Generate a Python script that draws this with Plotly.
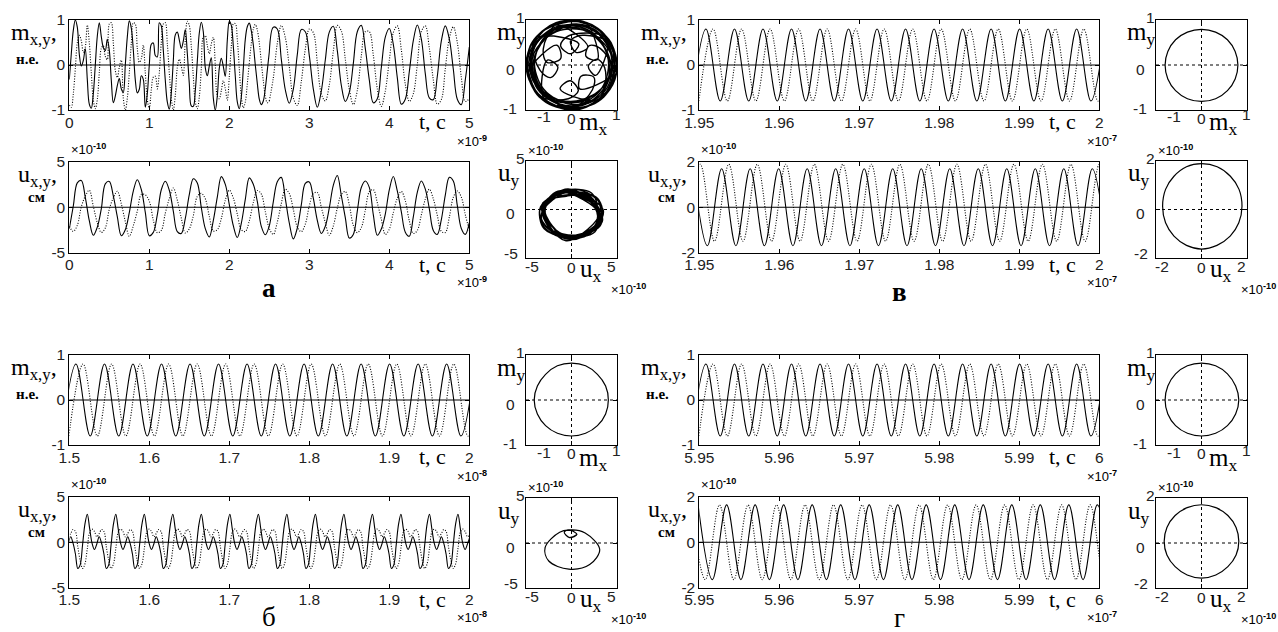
import plotly.graph_objects as go

W, H = 1278, 632
SERIF = "Liberation Serif"
SANS = "Liberation Sans"

# ---------------- panel а : transient regime (t in 1e-9 s, u in 1e-10 cm) -------------
# magnetisation: dense samples for 0 … 2.5, coarser samples for 2.5 … 5
A_E_T0, A_E_DT = 0.0, 0.025
a_mx_early = [-0.32, 0.25, 0.77, 1.00, 0.84, 0.24, -0.02, 0.10, 0.36, -0.32,
              -0.87, -0.96, -0.64, 0.00, 0.64, 0.94, 0.63, 0.39, 0.32, 0.57,
              0.33, -0.34, -0.84, -0.69, -0.46, -0.30, -0.53, -0.61, 0.00, 0.62,
              0.98, 0.82, 0.34, -0.33, -0.62, -0.54, -0.24, -0.32, -0.94, -0.64,
              0.00, 0.46, 0.49, 0.21, 0.18, 0.94, 0.87, 0.33, -0.34, -0.82,
              -0.98, -0.62, 0.09, 0.67, 0.73, 0.56, 0.37, 0.53, 0.79, 0.26,
              -0.41, -0.91, -0.92, -0.57, 0.08, 0.71, 0.95, 0.74, -0.06, -0.24,
              -0.02, 0.16, -0.73, -1.00, -0.69, -0.07, 0.15, -0.03, -0.25, 0.55,
              0.97, 0.88, 0.42, -0.25, -0.82, -0.97, -0.71, -0.08, 0.57, 0.85,
              0.93, 0.76, 0.45, 0.00, -0.41, -0.76, -0.88, -0.80, -0.52, -0.12,
              0.29]
a_my_early = [-0.89, -0.94, -0.64, -0.09, 0.49, 0.66, 0.54, 0.28, 0.40, 0.89,
              0.50, -0.17, -0.77, -0.97, -0.77, -0.17, 0.37, 0.43, 0.19, 0.12,
              0.91, 0.94, 0.49, -0.12, -0.28, -0.05, 0.11, -0.73, -1.00, -0.74,
              -0.17, 0.48, 0.94, 0.91, 0.36, 0.06, 0.14, 0.44, -0.17, -0.77,
              -0.97, -0.55, -0.27, -0.25, -0.53, -0.17, 0.50, 0.91, 0.94, 0.48,
              -0.17, -0.74, -1.00, -0.67, -0.06, 0.13, -0.03, -0.23, 0.56, 0.97,
              0.88, 0.42, -0.25, -0.82, -0.97, -0.71, -0.08, 0.62, 0.65, 0.43,
              0.25, 0.47, 0.61, 0.00, -0.69, -0.75, -0.57, -0.35, -0.53, -0.78,
              -0.26, 0.41, 0.91, 0.92, 0.57, -0.08, -0.71, -0.95, -0.82, -0.42,
              0.05, 0.48, 0.80, 0.90, 0.78, 0.49, 0.06, -0.35, -0.69, -0.84,
              -0.80]
A_L_T0, A_L_DT = 2.5, 0.05
a_mx_late = [0.29, 0.84, 0.80, 0.13, -0.55, -0.85, -0.54, 0.23, 0.79, 0.74,
             0.21, -0.53, -0.94, -0.58, 0.11, 0.73, 0.86, 0.32, -0.45, -0.81,
             -0.61, 0.03, 0.74, 0.88, 0.37, -0.33, -0.84, -0.75, -0.06, 0.62,
             0.81, 0.46, -0.28, -0.87, -0.76, -0.15, 0.54, 0.89, 0.58, -0.19,
             -0.73, -0.77, -0.25, 0.53, 0.87, 0.58, -0.09, -0.76, -0.88, -0.33,
             0.40]
a_my_late = [-0.80, -0.29, 0.48, 0.88, 0.61, -0.04, -0.73, -0.90, -0.37, 0.35,
             0.80, 0.72, 0.06, -0.64, -0.80, -0.44, 0.30, 0.88, 0.76, 0.13,
             -0.54, -0.88, -0.57, 0.20, 0.74, 0.74, 0.22, -0.53, -0.92, -0.58,
             0.10, 0.72, 0.87, 0.34, -0.43, -0.81, -0.64, 0.01, 0.74, 0.87,
             0.38, -0.33, -0.87, -0.77, -0.08, 0.59, 0.85, 0.50, -0.27, -0.81,
             -0.75]
# displacement on a 0.05 grid over 0 … 5
A_U_T0, A_U_DT = 0.0, 0.05
a_ux = [-2.37, 0.14, 2.69, 2.95, 1.10, -1.49, -3.10, -2.20, -0.18, 2.58,
        2.85, 1.26, -1.04, -3.15, -2.49, -0.60, 1.79, 3.04, 1.96, -0.57,
        -3.15, -2.78, -0.85, 1.93, 2.87, 1.88, -0.42, -2.69, -2.89, -1.24,
        1.40, 3.15, 2.69, -0.03, -2.37, -3.29, -1.48, 1.12, 3.38, 2.52,
        0.30, -2.04, -3.34, -1.78, 0.88, 3.25, 2.54, 0.64, -2.12, -3.04,
        -2.05, 0.60, 2.81, 3.30, 0.96, -1.74, -3.50, -2.30, 0.26, 2.63,
        2.80, 1.00, -1.45, -2.90, -2.10, -0.08, 2.42, 3.50, 1.30, -1.14,
        -3.40, -3.00, -0.42, 2.19, 2.90, 2.20, -0.82, -3.10, -2.40, -0.75,
        1.93, 3.40, 1.80, -0.48, -2.75, -3.20, -1.07, 1.64, 2.90, 2.00,
        -0.14, -2.56, -3.00, -1.39, 1.35, 3.30, 2.90, 0.20, -2.35, -3.00,
        -1.69]
a_uy = [-2.11, -2.66, -2.00, 0.05, 1.23, 1.89, 0.10, -1.70, -2.78, -2.29,
        -0.21, 1.03, 1.77, 0.38, -1.58, -3.22, -2.04, -0.43, 1.40, 1.37,
        0.68, -1.43, -2.81, -2.56, -0.66, 0.97, 2.12, 0.80, -1.20, -2.84,
        -2.39, -0.93, 1.20, 1.54, 0.93, -1.01, -2.63, -2.49, -1.25, 0.78,
        1.89, 1.02, -0.75, -2.50, -2.68, -1.51, 0.51, 1.85, 1.46, -0.49,
        -2.34, -3.00, -1.65, 0.40, 2.00, 1.51, -0.23, -2.17, -2.70, -1.87,
        0.15, 1.50, 1.64, 0.02, -1.70, -3.10, -2.07, -0.10, 1.40, 1.74,
        0.27, -2.00, -2.80, -2.25, -0.34, 1.70, 1.95, 0.50, -1.30, -3.00,
        -2.42, -0.60, 1.00, 1.75, 0.73, -1.50, -2.90, -2.56, -0.86, 0.90,
        2.00, 0.94, -0.90, -2.66, -2.80, -1.10, 1.10, 1.80, 1.13, -0.82,
        -2.54]

# ---------------- panel б : t in 1e-8 s ----------------
B_HALF = 0.017821                      # half period between successive extrema
B_MX_T0, B_MY_T0 = 1.49051, 1.49942
b_mx = [-0.80, 0.80, -0.80, 0.80, -0.80, 0.80, -0.80, 0.80, -0.80, 0.80,
        -0.80, 0.80, -0.80, 0.80, -0.80, 0.80, -0.80, 0.80, -0.80, 0.80,
        -0.80, 0.80, -0.80, 0.80, -0.80, 0.80, -0.80, 0.80, -0.80, 0.80]
b_my = [-0.80, 0.80, -0.80, 0.80, -0.80, 0.80, -0.80, 0.80, -0.80, 0.80,
        -0.80, 0.80, -0.80, 0.80, -0.80, 0.80, -0.80, 0.80, -0.80, 0.80,
        -0.80, 0.80, -0.80, 0.80, -0.80, 0.80, -0.80, 0.80, -0.80, 0.80]
# u_x, u_y sampled twelve times per period
B_U_T0, B_U_DT = 1.49874, 0.0029701
b_ux = [-0.2, 0.6, -0.1, -1.3, -2.9, -2.5, -0.3, 2.0,
        3.1, 1.5, -0.1, -0.8, -0.2, 0.6, -0.1, -1.3, -2.9, -2.5, -0.3, 2.0,
        3.1, 1.5, -0.1, -0.8, -0.2, 0.6, -0.1, -1.3, -2.9, -2.5, -0.3, 2.0,
        3.1, 1.5, -0.1, -0.8, -0.2, 0.6, -0.1, -1.3, -2.9, -2.5, -0.3, 2.0,
        3.1, 1.5, -0.1, -0.8, -0.2, 0.6, -0.1, -1.3, -2.9, -2.5, -0.3, 2.0,
        3.1, 1.5, -0.1, -0.8, -0.2, 0.6, -0.1, -1.3, -2.9, -2.5, -0.3, 2.0,
        3.1, 1.5, -0.1, -0.8, -0.2, 0.6, -0.1, -1.3, -2.9, -2.5, -0.3, 2.0,
        3.1, 1.5, -0.1, -0.8, -0.2, 0.6, -0.1, -1.3, -2.9, -2.5, -0.3, 2.0,
        3.1, 1.5, -0.1, -0.8, -0.2, 0.6, -0.1, -1.3, -2.9, -2.5, -0.3, 2.0,
        3.1, 1.5, -0.1, -0.8, -0.2, 0.6, -0.1, -1.3, -2.9, -2.5, -0.3, 2.0,
        3.1, 1.5, -0.1, -0.8, -0.2, 0.6, -0.1, -1.3, -2.9, -2.5, -0.3, 2.0,
        3.1, 1.5, -0.1, -0.8, -0.2, 0.6, -0.1, -1.3, -2.9, -2.5, -0.3, 2.0,
        3.1, 1.5, -0.1, -0.8, -0.2, 0.6, -0.1, -1.3, -2.9, -2.5, -0.3, 2.0,
        3.1, 1.5, -0.1, -0.8, -0.2, 0.6, -0.1, -1.3, -2.9, -2.5, -0.3, 2.0,
        3.1, 1.5, -0.1, -0.8, -0.2, 0.6]
b_uy = [0.6, 0.95, 1.4, 1.2, -0.5, -2.0, -2.9, -2.4,
        -0.7, 1.1, 1.45, 1.2, 0.6, 0.95, 1.4, 1.2, -0.5, -2.0, -2.9, -2.4,
        -0.7, 1.1, 1.45, 1.2, 0.6, 0.95, 1.4, 1.2, -0.5, -2.0, -2.9, -2.4,
        -0.7, 1.1, 1.45, 1.2, 0.6, 0.95, 1.4, 1.2, -0.5, -2.0, -2.9, -2.4,
        -0.7, 1.1, 1.45, 1.2, 0.6, 0.95, 1.4, 1.2, -0.5, -2.0, -2.9, -2.4,
        -0.7, 1.1, 1.45, 1.2, 0.6, 0.95, 1.4, 1.2, -0.5, -2.0, -2.9, -2.4,
        -0.7, 1.1, 1.45, 1.2, 0.6, 0.95, 1.4, 1.2, -0.5, -2.0, -2.9, -2.4,
        -0.7, 1.1, 1.45, 1.2, 0.6, 0.95, 1.4, 1.2, -0.5, -2.0, -2.9, -2.4,
        -0.7, 1.1, 1.45, 1.2, 0.6, 0.95, 1.4, 1.2, -0.5, -2.0, -2.9, -2.4,
        -0.7, 1.1, 1.45, 1.2, 0.6, 0.95, 1.4, 1.2, -0.5, -2.0, -2.9, -2.4,
        -0.7, 1.1, 1.45, 1.2, 0.6, 0.95, 1.4, 1.2, -0.5, -2.0, -2.9, -2.4,
        -0.7, 1.1, 1.45, 1.2, 0.6, 0.95, 1.4, 1.2, -0.5, -2.0, -2.9, -2.4,
        -0.7, 1.1, 1.45, 1.2, 0.6, 0.95, 1.4, 1.2, -0.5, -2.0, -2.9, -2.4,
        -0.7, 1.1, 1.45, 1.2, 0.6, 0.95, 1.4, 1.2, -0.5, -2.0, -2.9, -2.4,
        -0.7, 1.1, 1.45, 1.2, 0.6, 0.95]
b_ring_mx = [0.81, 0.75, 0.57, 0.31, 0.0, -0.31, -0.57, -0.75, -0.82,
             -0.75, -0.57, -0.31, 0.0, 0.31, 0.57, 0.75, 0.81]
b_ring_my = [0.0, 0.31, 0.57, 0.76, 0.82, 0.76, 0.57, 0.31, 0.0,
             -0.31, -0.57, -0.74, -0.80, -0.74, -0.57, -0.31, 0.0]

# ---------------- panel в : t in 1e-7 s ----------------
V_HALF = 0.0017821
V_MX_T0, V_MY_T0 = 1.949051, 1.949942
v_mx = [-0.80, 0.80, -0.80, 0.80, -0.80, 0.80, -0.80, 0.80, -0.80, 0.80,
        -0.80, 0.80, -0.80, 0.80, -0.80, 0.80, -0.80, 0.80, -0.80, 0.80,
        -0.80, 0.80, -0.80, 0.80, -0.80, 0.80, -0.80, 0.80, -0.80, 0.80]
v_my = [-0.80, 0.80, -0.80, 0.80, -0.80, 0.80, -0.80, 0.80, -0.80, 0.80,
        -0.80, 0.80, -0.80, 0.80, -0.80, 0.80, -0.80, 0.80, -0.80, 0.80,
        -0.80, 0.80, -0.80, 0.80, -0.80, 0.80, -0.80, 0.80, -0.80, 0.80]
V_UX_T0, V_UY_T0 = 1.949228, 1.948337
v_ux = [1.70, -1.70, 1.70, -1.70, 1.70, -1.70, 1.70, -1.70, 1.70, -1.70,
        1.70, -1.70, 1.70, -1.70, 1.70, -1.70, 1.70, -1.70, 1.70, -1.70,
        1.70, -1.70, 1.70, -1.70, 1.70, -1.70, 1.70, -1.70, 1.70, -1.70]
v_uy = [-1.50, 1.90, -1.50, 1.90, -1.50, 1.90, -1.50, 1.90, -1.50, 1.90,
        -1.50, 1.90, -1.50, 1.90, -1.50, 1.90, -1.50, 1.90, -1.50, 1.90,
        -1.50, 1.90, -1.50, 1.90, -1.50, 1.90, -1.50, 1.90, -1.50, 1.90, -1.50]
v_ring_mx = [0.80, 0.74, 0.57, 0.31, 0.0, -0.31, -0.57, -0.74, -0.80,
             -0.74, -0.57, -0.31, 0.0, 0.31, 0.57, 0.74, 0.80]
v_ring_my = [0.0, 0.30, 0.56, 0.73, 0.79, 0.73, 0.56, 0.30, 0.0,
             -0.31, -0.57, -0.75, -0.81, -0.75, -0.57, -0.31, 0.0]
v_ring_ux = [1.78, 1.65, 1.27, 0.69, 0.0, -0.66, -1.21, -1.58, -1.71,
             -1.58, -1.21, -0.66, 0.0, 0.68, 1.26, 1.64, 1.78]
v_ring_uy = [0.13, 0.83, 1.37, 1.76, 1.89, 1.76, 1.37, 0.83, 0.13,
             -0.55, -1.10, -1.48, -1.63, -1.48, -1.10, -0.55, 0.13]

# ---------------- panel г : t in 1e-7 s ----------------
G_HALF = 0.0017821
G_MX_T0, G_MY_T0 = 5.949051, 5.949942
g_mx = [-0.80, 0.80, -0.80, 0.80, -0.80, 0.80, -0.80, 0.80, -0.80, 0.80,
        -0.80, 0.80, -0.80, 0.80, -0.80, 0.80, -0.80, 0.80, -0.80, 0.80,
        -0.80, 0.80, -0.80, 0.80, -0.80, 0.80, -0.80, 0.80, -0.80, 0.80]
g_my = [-0.80, 0.80, -0.80, 0.80, -0.80, 0.80, -0.80, 0.80, -0.80, 0.80,
        -0.80, 0.80, -0.80, 0.80, -0.80, 0.80, -0.80, 0.80, -0.80, 0.80,
        -0.80, 0.80, -0.80, 0.80, -0.80, 0.80, -0.80, 0.80, -0.80, 0.80]
G_UX_T0, G_UY_T0 = 5.949853, 5.948962
g_ux = [1.65, -1.65, 1.65, -1.65, 1.65, -1.65, 1.65, -1.65, 1.65, -1.65,
        1.65, -1.65, 1.65, -1.65, 1.65, -1.65, 1.65, -1.65, 1.65, -1.65,
        1.65, -1.65, 1.65, -1.65, 1.65, -1.65, 1.65, -1.65, 1.65, -1.65]
g_uy = [1.65, -1.65, 1.65, -1.65, 1.65, -1.65, 1.65, -1.65, 1.65, -1.65,
        1.65, -1.65, 1.65, -1.65, 1.65, -1.65, 1.65, -1.65, 1.65, -1.65,
        1.65, -1.65, 1.65, -1.65, 1.65, -1.65, 1.65, -1.65, 1.65, -1.65, 1.65]
g_ring_mx = [0.82, 0.75, 0.57, 0.31, 0.0, -0.31, -0.57, -0.74, -0.80,
             -0.74, -0.57, -0.31, 0.0, 0.31, 0.57, 0.75, 0.82]
g_ring_my = [0.0, 0.31, 0.58, 0.76, 0.82, 0.76, 0.58, 0.31, 0.0,
             -0.31, -0.57, -0.74, -0.80, -0.74, -0.57, -0.31, 0.0]
g_ring_ux = [1.64, 1.52, 1.16, 0.63, 0.0, -0.63, -1.16, -1.52, -1.64,
             -1.52, -1.16, -0.63, 0.0, 0.63, 1.16, 1.52, 1.64]
g_ring_uy = [0.07, 0.69, 1.22, 1.57, 1.70, 1.57, 1.22, 0.69, 0.07,
             -0.53, -1.05, -1.42, -1.56, -1.42, -1.05, -0.53, 0.07]

# ---------------- figure construction ----------------
fig = go.Figure()
layout_axes, shapes, annotations = {}, [], []
counter = [0]

AXIS_STYLE = dict(showline=True, linecolor="black", linewidth=1, mirror="allticks",
                  ticks="inside", ticklen=4, tickwidth=1, tickcolor="black",
                  showgrid=False, zeroline=False, fixedrange=True,
                  tickfont=dict(family=SANS, size=15.5, color="#222"))


def axes(xl, xr, yt, yb, xrange, yrange, xt, xtt, yt_vals, ytt, labels=True):
    counter[0] += 1
    n = counter[0]
    sx = "" if n == 1 else str(n)
    layout_axes["xaxis" + sx] = dict(AXIS_STYLE, domain=[xl / W, xr / W], range=xrange,
                                     anchor="y" + sx, tickvals=xt, ticktext=xtt,
                                     showticklabels=labels, ticklabelstandoff=-2)
    layout_axes["yaxis" + sx] = dict(AXIS_STYLE, domain=[1 - yb / H, 1 - yt / H], range=yrange,
                                     anchor="x" + sx, tickvals=yt_vals, ticktext=ytt,
                                     showticklabels=labels)
    return "x" + sx, "y" + sx


def text(px, py, s, size, family=SERIF, xanchor="left", color="black"):
    annotations.append(dict(x=px / W, y=1 - py / H, xref="paper", yref="paper", text=s,
                            showarrow=False, xanchor=xanchor, yanchor="middle",
                            font=dict(family=family, size=size, color=color)))


def tick(px, py, s, xanchor="center"):
    text(px, py, s, 15.5, SANS, xanchor, "#222")


def series(xa, ya, x0, dx, vals, dotted=False):
    fig.add_trace(go.Scatter(x0=x0, dx=dx, y=vals, mode="lines", xaxis=xa, yaxis=ya,
                             line=dict(color="black", width=1.1, shape="spline", smoothing=1,
                                       dash="1px,1.6px" if dotted else "solid"),
                             hoverinfo="skip", showlegend=False))


def orbit(xa, ya, xs, ys, width=1.2):
    fig.add_trace(go.Scatter(x=xs, y=ys, mode="lines", xaxis=xa, yaxis=ya,
                             line=dict(color="black", width=width, shape="spline", smoothing=1),
                             hoverinfo="skip", showlegend=False))


def hline(xa, ya, dash="solid"):
    shapes.append(dict(type="line", xref=xa + " domain", yref=ya, x0=0, x1=1, y0=0, y1=0,
                       line=dict(color="black", width=1, dash=dash), layer="above"))


def vline(xa, ya):
    shapes.append(dict(type="line", xref=xa, yref=ya + " domain", x0=0, x1=0, y0=0, y1=1,
                       line=dict(color="black", width=1, dash="3px,3px"), layer="above"))


def panel(ox, oy, uy_top, uy_bot, cfg):
    tl, tr = 69.3 + ox, 469.3 + ox
    pl, pr = 526 + ox, 617 + ox
    mt, mb = 20 + oy, 110 + oy
    ut, ub = 162 + oy, 252.5 + oy
    pc = (pl + pr) / 2
    exp_t = "×10<sup><b>%s</b></sup>" % cfg["texp"]
    exp_u = "×10<sup><b>-10</b></sup>"
    ul = cfg["ulim"]
    ow = cfg.get("orbit_w", 1.2)

    # m(t)
    xa, ya = axes(tl, tr, mt, mb, cfg["trange"], [-1, 1], cfg["tt"], cfg["ttt"],
                  [-1, 0, 1], ["-1", "0", "1"])
    for x0, dx, vals, dot in cfg["m"]:
        series(xa, ya, x0, dx, vals, dot)
    hline(xa, ya)
    text(tl - 60, mt + 14, "m<sub>x,y</sub>,", 24)
    text(tl - 55, mt + 39, "<b>н.е.</b>", 15)
    text(tl + 348, mb + 11, "t, с", 22)
    text(tl + 386, mb + 31, exp_t, 13, SANS)

    # u(t)
    xa, ya = axes(tl, tr, ut, ub, cfg["trange"], [-ul, ul], cfg["tt"], cfg["ttt"],
                  [-ul, 0, ul], ["-%g" % ul, "0", "%g" % ul])
    for x0, dx, vals, dot in cfg["u"]:
        series(xa, ya, x0, dx, vals, dot)
    hline(xa, ya)
    text(tl - 53, ut + 14, "u<sub>x,y</sub>,", 24)
    text(tl - 43, ut + 35, "<b>см</b>", 15)
    text(tl, ut - 13, exp_u, 13, SANS)
    text(tl + 348, ub + 12, "t, с", 22)
    text(tl + 386, ub + 29, exp_t, 13, SANS)
    text(tl + 200, cfg["letter_y"], cfg["letter"], 27, SERIF, "center")

    # m_y(m_x)
    xa, ya = axes(pl, pr, mt, mb, [-1, 1], [-1, 1], [-1, 0, 1], None, [-1, 0, 1], None, False)
    hline(xa, ya, "3px,3px")
    vline(xa, ya)
    for xs, ys in cfg["pm"]:
        orbit(xa, ya, xs, ys, ow)
    text(pl - 31, mt + 14, "m<sub>y</sub>", 25)
    tick(pl + 1, mt - 3, "1", "right")
    tick(pl - 9, (mt + mb) / 2 + 4, "0", "right")
    tick(pl - 7, mb - 2, "-1", "right")
    tick(pl + 18, mb + 7, "-1")
    tick(pc, mb + 8, "0")
    text(pc + 5, mb + 14, "m<sub>x</sub>", 25)
    tick(pr - 1, mb + 5, "1")

    # u_y(u_x)
    xa, ya = axes(pl, pr, uy_top, uy_bot, [-ul, ul], [-ul, ul], [-ul, 0, ul], None,
                  [-ul, 0, ul], None, False)
    hline(xa, ya, "3px,3px")
    vline(xa, ya)
    for xs, ys in cfg["pu"]:
        orbit(xa, ya, xs, ys, ow)
    text(pl, uy_top - 11, exp_u, 13, SANS)
    text(pl - 30, uy_top + 14, "u<sub>y</sub>", 25)
    tick(pl + 1, uy_top - 3, "%g" % ul, "right")
    tick(pl - 9, (uy_top + uy_bot) / 2 + 4, "0", "right")
    tick(pl - 6, uy_bot - 5, "-%g" % ul, "right")
    tick(pl + 6, uy_bot + 8, "-%g" % ul)
    tick(pc, uy_bot + 9, "0")
    text(pc + 6, uy_bot + 12, "u<sub>x</sub>", 25)
    tick(pr - 6, uy_bot + 8, "%g" % ul)
    text(pr - 8, uy_bot + 31, exp_u, 13, SANS)


panel(0, 0, 161, 258, dict(
    trange=[0, 5], tt=[0, 1, 2, 3, 4, 5], ttt=["0", "1", "2", "3", "4", "5"], texp="-9",
    ulim=5, letter="<b>а</b>", letter_y=288, orbit_w=1.4,
    m=[(A_E_T0, A_E_DT, a_mx_early, False), (A_L_T0, A_L_DT, a_mx_late, False),
       (A_E_T0, A_E_DT, a_my_early, True), (A_L_T0, A_L_DT, a_my_late, True)],
    u=[(A_U_T0, A_U_DT, a_ux, False), (A_U_T0, A_U_DT, a_uy, True)],
    pm=[(a_mx_early, a_my_early), (a_mx_late, a_my_late)], pu=[(a_ux, a_uy)]))

panel(0, 335, 498, 588, dict(
    trange=[1.5, 2.0], tt=[1.5, 1.6, 1.7, 1.8, 1.9, 2.0],
    ttt=["1.5", "1.6", "1.7", "1.8", "1.9", "2"], texp="-8", ulim=5,
    letter="б", letter_y=617,
    m=[(B_MX_T0, B_HALF, b_mx, False), (B_MY_T0, B_HALF, b_my, True)],
    u=[(B_U_T0, B_U_DT, b_ux, False), (B_U_T0, B_U_DT, b_uy, True)],
    pm=[(b_ring_mx, b_ring_my)], pu=[(b_ux, b_uy)]))

panel(630, 0, 161, 258, dict(
    trange=[1.95, 2.0], tt=[1.95, 1.96, 1.97, 1.98, 1.99, 2.0],
    ttt=["1.95", "1.96", "1.97", "1.98", "1.99", "2"], texp="-7", ulim=2,
    letter="<b>в</b>", letter_y=292,
    m=[(V_MX_T0, V_HALF, v_mx, False), (V_MY_T0, V_HALF, v_my, True)],
    u=[(V_UX_T0, V_HALF, v_ux, False), (V_UY_T0, V_HALF, v_uy, True)],
    pm=[(v_ring_mx, v_ring_my)], pu=[(v_ring_ux, v_ring_uy)]))

panel(630, 335, 498, 588, dict(
    trange=[5.95, 6.0], tt=[5.95, 5.96, 5.97, 5.98, 5.99, 6.0],
    ttt=["5.95", "5.96", "5.97", "5.98", "5.99", "6"], texp="-7", ulim=2,
    letter="г", letter_y=618,
    m=[(G_MX_T0, G_HALF, g_mx, False), (G_MY_T0, G_HALF, g_my, True)],
    u=[(G_UX_T0, G_HALF, g_ux, False), (G_UY_T0, G_HALF, g_uy, True)],
    pm=[(g_ring_mx, g_ring_my)], pu=[(g_ring_ux, g_ring_uy)]))

fig.update_layout(width=W, height=H,
                  margin=dict(l=0, r=0, t=0, b=0, pad=0, autoexpand=False),
                  paper_bgcolor="white", plot_bgcolor="white", showlegend=False,
                  shapes=shapes, annotations=annotations, **layout_axes)
fig.write_html("out.html", include_plotlyjs=True, config={"displayModeBar": False})
